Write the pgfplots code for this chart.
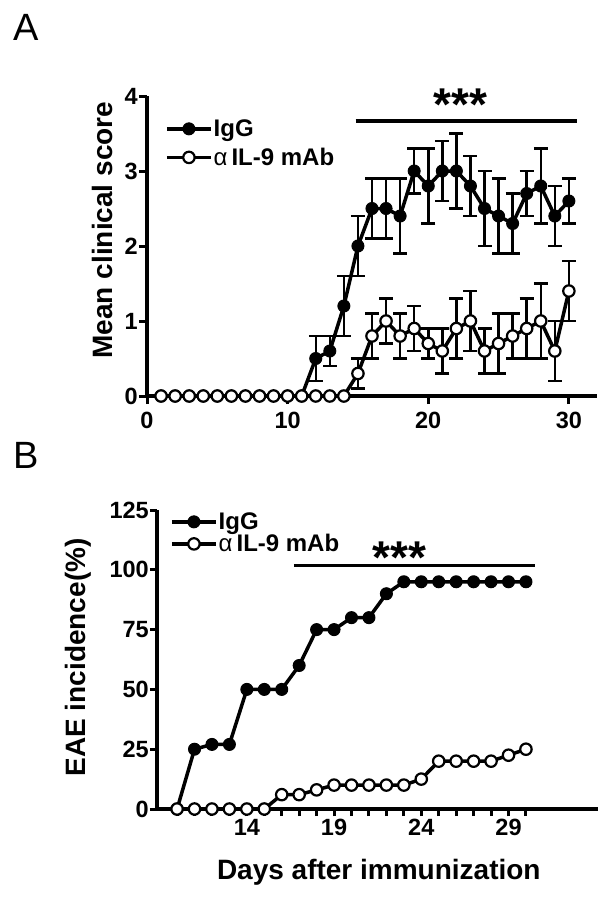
\documentclass[border=0pt]{standalone}
\usepackage{fontspec}
\setmainfont{Liberation Sans}
\usepackage{pgfplots}
\pgfplotsset{compat=1.18}

\pgfplotsset{
  common/.style={
    scale only axis, clip=false, axis on top,
    axis x line*=bottom, axis y line*=left,
    axis line style={line width=3.5pt, -},
    major tick style={line width=3pt, black},
    minor tick style={line width=3pt, black},
    tick align=outside,
    /pgf/number format/assume math mode=true,
    tick label style={font=\fontsize{23.5}{27}\selectfont\bfseries, inner sep=1pt},
    label style={font=\fontsize{28}{32}\selectfont\bfseries},
    legend cell align=left,
    legend style={draw=none, fill=none, inner sep=0pt, anchor=north west,
      font=\fontsize{24}{28}\selectfont\bfseries,
      nodes={inner sep=1pt},
      /tikz/every even column/.append style={column sep=3pt}},
    legend image code/.code={\draw[##1, mark repeat=2, mark phase=2] plot coordinates {(0pt,0pt) (22pt,0pt) (44pt,0pt)};},
  },
  igg/.style={black, line width=3.5pt, mark=*, mark size=6pt,
    mark options={solid, line width=1pt, fill=black}},
  il9/.style={black, line width=3.5pt, mark=*, mark size=5.7pt,
    mark options={solid, line width=2.2pt, fill=white}},
  eb/.style={error bars/.cd, y dir=both, y explicit,
    error bar style={line width=2.5pt, black},
    error mark options={rotate=90, mark size=7pt, line width=2.5pt, black}},
}

\begin{document}
\begin{tikzpicture}
\useasboundingbox (0pt,0pt) rectangle (612pt,-903pt);
\node[font=\fontsize{38}{42}\selectfont] at (26pt,-27.5pt) {A};
\node[font=\fontsize{38}{42}\selectfont] at (26pt,-455pt) {B};

% Panel A
\begin{axis}[common,
  at={(147pt,-396pt)}, anchor=south west,
  width=450pt, height=300pt,
  xmin=0, xmax=32, ymin=0, ymax=4,
  xtick={0,10,20,30}, ytick={0,1,2,3,4},
  major tick length=8pt,
  xticklabel style={yshift=-7pt},
  ylabel={Mean clinical score},
  ylabel style={at={(axis description cs:-0.1,0.553)}, anchor=center},
  legend style={at={(axis description cs:0.04,0.925)}, row sep=8pt},
]
\addplot[igg, eb] table[x=d, y=m, y error=e] {
d m e
1 0 0
2 0 0
3 0 0
4 0 0
5 0 0
6 0 0
7 0 0
8 0 0
9 0 0
10 0 0
11 0 0
12 0.5 0.3
13 0.6 0.2
14 1.2 0.4
15 2.0 0.4
16 2.5 0.4
17 2.5 0.4
18 2.4 0.5
19 3.0 0.3
20 2.8 0.5
21 3.0 0.4
22 3.0 0.5
23 2.8 0.4
24 2.5 0.5
25 2.4 0.5
26 2.3 0.4
27 2.7 0.3
28 2.8 0.5
29 2.4 0.4
30 2.6 0.3
};
\addplot[il9, eb] table[x=d, y=m, y error=e] {
d m e
1 0 0
2 0 0
3 0 0
4 0 0
5 0 0
6 0 0
7 0 0
8 0 0
9 0 0
10 0 0
11 0 0
12 0 0
13 0 0
14 0 0
15 0.3 0.2
16 0.8 0.3
17 1.0 0.3
18 0.8 0.3
19 0.9 0.3
20 0.7 0.2
21 0.6 0.3
22 0.9 0.4
23 1.0 0.4
24 0.6 0.3
25 0.7 0.4
26 0.8 0.3
27 0.9 0.4
28 1.0 0.5
29 0.6 0.4
30 1.4 0.4
};
\legend{IgG, {{\mdseries α}\,IL-9 mAb}}
\addplot[black, line width=3.5pt, mark=none, forget plot] coordinates {(14.84,3.67) (30.6,3.67)};
\node[font=\fontsize{46}{50}\selectfont\bfseries] at (axis cs:22.3,3.88) {***};
\end{axis}

% Panel B
\begin{axis}[common,
  at={(157pt,-809pt)}, anchor=south west,
  width=441pt, height=299pt,
  xmin=8.85, xmax=34.13, ymin=0, ymax=125,
  xtick={14,19,24,29}, minor xtick={10,...,30},
  ytick={0,25,50,75,100,125},
  major tick length=7pt, minor tick length=7pt,
  xticklabel style={yshift=-2pt},
  xlabel={Days after immunization},
  xlabel style={at={(axis description cs:0.503,-0.212)}, anchor=center},
  ylabel={EAE incidence(\%)},
  ylabel style={at={(axis description cs:-0.179,0.507)}, anchor=center},
  legend style={at={(axis description cs:0.0295,0.995)}, row sep=1.5pt},
]
\addplot[igg] table[x=d, y=p] {
d p
10 0
11 25
12 27
13 27
14 50
15 50
16 50
17 60
18 75
19 75
20 80
21 80
22 90
23 95
24 95
25 95
26 95
27 95
28 95
29 95
30 95
};
\addplot[il9] table[x=d, y=p] {
d p
10 0
11 0
12 0
13 0
14 0
15 0
16 6
17 6
18 8
19 10
20 10
21 10
22 10
23 10
24 12.5
25 20
26 20
27 20
28 20
29 22.5
30 25
};
\legend{IgG, {{\mdseries α}\,IL-9 mAb}}
\addplot[black, line width=3.5pt, mark=none, forget plot] coordinates {(16.7,101.7) (30.49,101.7)};
\node[font=\fontsize{46}{50}\selectfont\bfseries] at (axis cs:22.77,105) {***};
\end{axis}
\end{tikzpicture}
\end{document}
